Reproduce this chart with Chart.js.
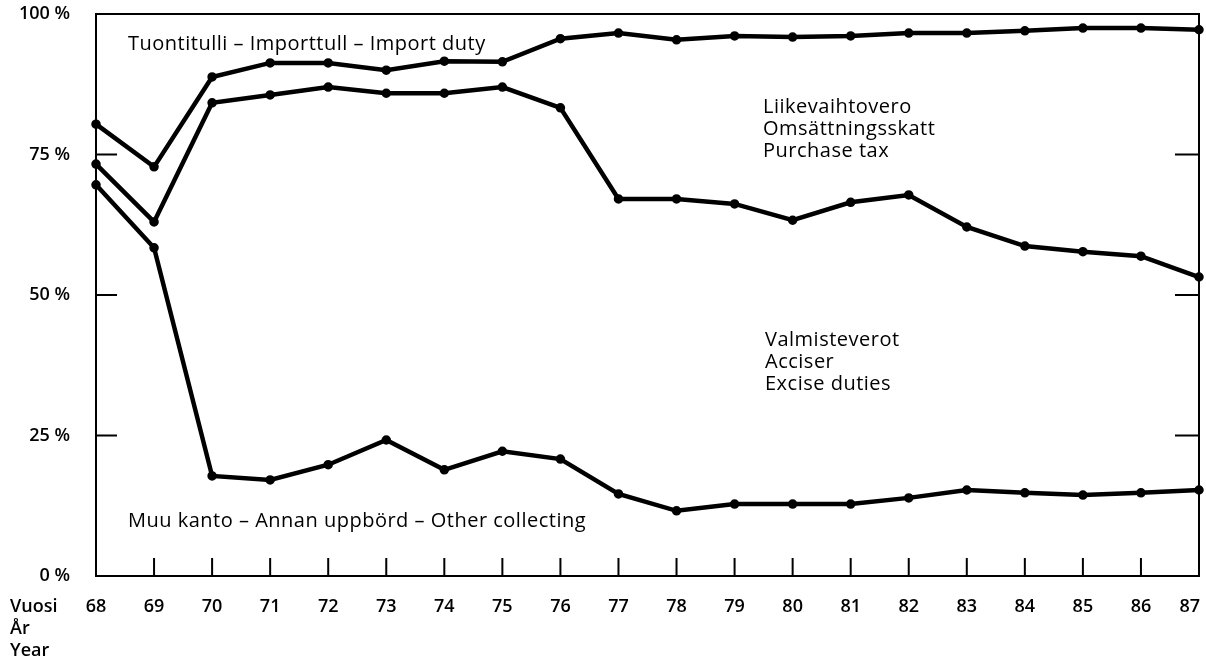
<!DOCTYPE html>
<html>
<head>
<meta charset="utf-8">
<style>
  html, body { margin: 0; padding: 0; background: #fff; }
  #wrap { width: 1206px; height: 661px; }
</style>
<script src="https://cdn.jsdelivr.net/npm/chart.js@4/dist/chart.umd.min.js"></script>
</head>
<body>
<div id="wrap"><canvas id="chart" width="1206" height="661"></canvas></div>
<script>
// years 1968-1987, shown as two digits
const years = ['68', '69', '70', '71', '72', '73', '74', '75', '76', '77',
               '78', '79', '80', '81', '82', '83', '84', '85', '86', '87'];

// cumulative shares, %: top of each band
const importDutyTop = [80.4, 72.8, 88.8, 91.3, 91.3, 90.0, 91.6, 91.5, 95.6, 96.6,
                       95.4, 96.1, 95.9, 96.1, 96.6, 96.6, 97.0, 97.5, 97.5, 97.2];
const purchaseTaxTop = [73.3, 63.0, 84.2, 85.6, 87.0, 85.9, 85.9, 87.0, 83.3, 67.1,
                        67.1, 66.2, 63.3, 66.5, 67.8, 62.1, 58.7, 57.7, 56.9, 53.2];
const exciseTop = [69.6, 58.4, 17.8, 17.1, 19.8, 24.2, 18.9, 22.2, 20.8, 14.6,
                   11.6, 12.8, 12.8, 12.8, 13.9, 15.3, 14.8, 14.4, 14.8, 15.3];

const yTicks = [0, 25, 50, 75, 100];

const fontFamily = '"Open Sans", sans-serif';
const labelFont = '600 18px ' + fontFamily;
const textFont = '20px ' + fontFamily;

// frame, inward tick marks and the text annotations
const framePlugin = {
  id: 'frame',
  afterDraw(chart) {
    const { ctx, chartArea: a, scales } = chart;
    ctx.save();
    ctx.strokeStyle = '#000';
    ctx.lineWidth = 2;
    ctx.strokeRect(a.left, a.top, a.right - a.left, a.bottom - a.top);

    ctx.beginPath();
    yTicks.slice(1, -1).forEach(v => {
      const y = scales.y.getPixelForValue(v);
      ctx.moveTo(a.left, y); ctx.lineTo(a.left + 21, y);
      ctx.moveTo(a.right - 24, y); ctx.lineTo(a.right, y);
    });
    years.forEach((_, i) => {
      const x = scales.x.getPixelForValue(i);
      ctx.moveTo(x, a.bottom); ctx.lineTo(x, a.bottom - 18);
    });
    ctx.stroke();

    ctx.fillStyle = '#000';
    ctx.textBaseline = 'middle';
    ctx.font = labelFont;

    // last year label sits left of its tick, inside the canvas
    const last = years.length - 1;
    ctx.textAlign = 'right';
    ctx.fillText(years[last], scales.x.getPixelForValue(last) + 1, 607);

    ctx.textAlign = 'left';
    ctx.fillText('Vuosi', 10, 607);
    ctx.fillText('År', 10, 629);
    ctx.fillText('Year', 10, 651);

    ctx.font = textFont;
    ctx.letterSpacing = '0.5px';
    ctx.fillText('Tuontitulli – Importtull – Import duty', 128, 44);
    ctx.fillText('Liikevaihtovero', 763, 107);
    ctx.fillText('Omsättningsskatt', 763, 129);
    ctx.fillText('Purchase tax', 763, 151);
    ctx.fillText('Valmisteverot', 765, 340);
    ctx.fillText('Acciser', 765, 362);
    ctx.fillText('Excise duties', 765, 384);
    ctx.fillText('Muu kanto – Annan uppbörd – Other collecting', 128, 521);
    ctx.restore();
  }
};

function lineSet(label, data) {
  return {
    label,
    data,
    borderColor: '#000',
    backgroundColor: '#000',
    borderWidth: 4.5,
    pointRadius: 2.5,
    pointHoverRadius: 2.5,
    tension: 0,
    fill: false,
    clip: false
  };
}

new Chart(document.getElementById('chart'), {
  type: 'line',
  data: {
    labels: years,
    datasets: [
      lineSet('Tuontitulli', importDutyTop),
      lineSet('Liikevaihtovero', purchaseTaxTop),
      lineSet('Valmisteverot', exciseTop)
    ]
  },
  options: {
    responsive: false,
    animation: false,
    devicePixelRatio: 1,
    layout: { padding: { top: 14, right: 5, left: 0, bottom: 0 } },
    plugins: {
      legend: { display: false },
      tooltip: { enabled: false }
    },
    scales: {
      x: {
        offset: false,
        grid: { display: false, drawTicks: false },
        border: { display: false },
        ticks: {
          color: '#000',
          font: { family: fontFamily, size: 18, weight: '600' },
          padding: 20,
          maxRotation: 0,
          autoSkip: false,
          callback: (v, i) => (i === years.length - 1 ? '' : years[i])
        },
        afterFit(scale) {
          scale.height = 85;
          scale.paddingLeft = 0;
          scale.paddingRight = 0;
        }
      },
      y: {
        min: 0,
        max: 100,
        grid: { display: false, drawTicks: false },
        border: { display: false },
        ticks: {
          stepSize: 25,
          color: '#000',
          font: { family: fontFamily, size: 18, weight: '600' },
          padding: 26,
          callback: v => v + ' %'
        },
        afterFit(scale) {
          scale.width = 96;
          scale.paddingTop = 0;
          scale.paddingBottom = 0;
        }
      }
    }
  },
  plugins: [framePlugin]
});
</script>
</body>
</html>
